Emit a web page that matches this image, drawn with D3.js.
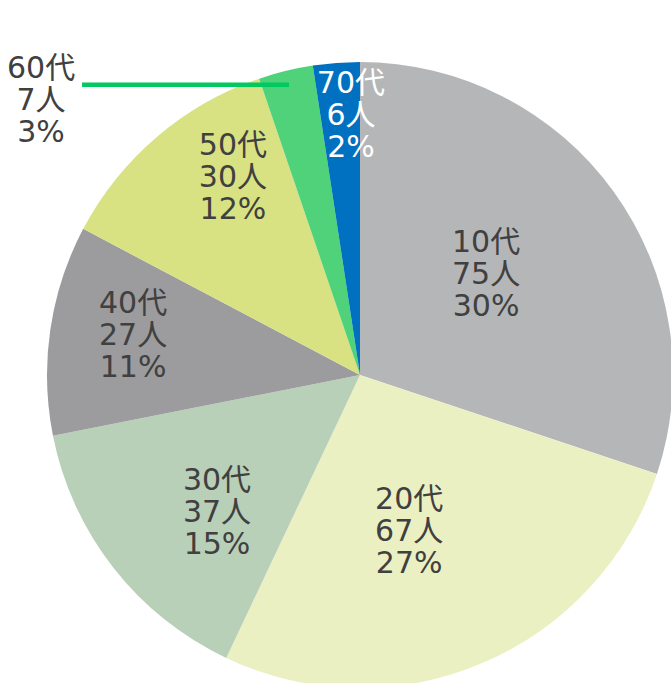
<!DOCTYPE html>
<html><head><meta charset="utf-8">
<script src="https://cdn.jsdelivr.net/npm/d3@7"></script>
<style>html,body{margin:0;padding:0;background:#fff;overflow:hidden}</style>
</head><body>
<svg id="c" width="671" height="683"></svg>
<script>
const categories = ["10代","20代","30代","40代","50代","60代","70代"];
const counts = [75, 67, 37, 27, 30, 7, 6];
const percentLabels = ["30%","27%","15%","11%","12%","3%","2%"];
const colors = ["#b5b6b8","#ebf0c3","#b8cfb8","#9c9b9d","#d8e283","#50d27a","#0070c0"];
const textColors = ["#404040","#404040","#404040","#404040","#404040","#404040","#ffffff"];
// label placement (offset of middle-line baseline from pie centre, in units of radius)
const labelOffsets = [[0.403,-0.291],[0.157,0.530],[-0.457,0.470],[-0.725,-0.096],[-0.406,-0.601],[-1.019,-0.847],[-0.029,-0.799]];

const svg = d3.select("#c");
const cx = 360, cy = 375, r = 313;
const g = svg.append("g").attr("transform", `translate(${cx},${cy})`);
const pie = d3.pie().sort(null).value(d => d)(counts);
const arc = d3.arc().innerRadius(0).outerRadius(r);
g.selectAll("path").data(pie).join("path")
  .attr("d", arc).attr("fill", (d,i) => colors[i]);

// leader line for 60代
const p60 = pie[5];
const midA = (p60.startAngle + p60.endAngle) / 2;
const lr = r * 0.955;
const ex = lr * Math.sin(midA), ey = -lr * Math.cos(midA);
g.append("line").attr("x1", labelOffsets[5][0]*r + 41).attr("y1", ey)
  .attr("x2", ex).attr("y2", ey)
  .attr("stroke", "#00c95f").attr("stroke-width", 4.5);

const lh = 32;
categories.forEach((c, i) => {
  const x = labelOffsets[i][0] * r, y = labelOffsets[i][1] * r;
  const t = g.append("text").attr("text-anchor", "middle")
    .attr("font-family", "'DejaVu Sans', 'Noto Sans CJK JP', sans-serif")
    .attr("font-size", 30).attr("fill", textColors[i]);
  [c, counts[i] + "人", percentLabels[i]].forEach((s, k) => {
    t.append("tspan").attr("x", x).attr("y", y + (k - 1) * lh).text(s);
  });
});
</script>
</body></html>
